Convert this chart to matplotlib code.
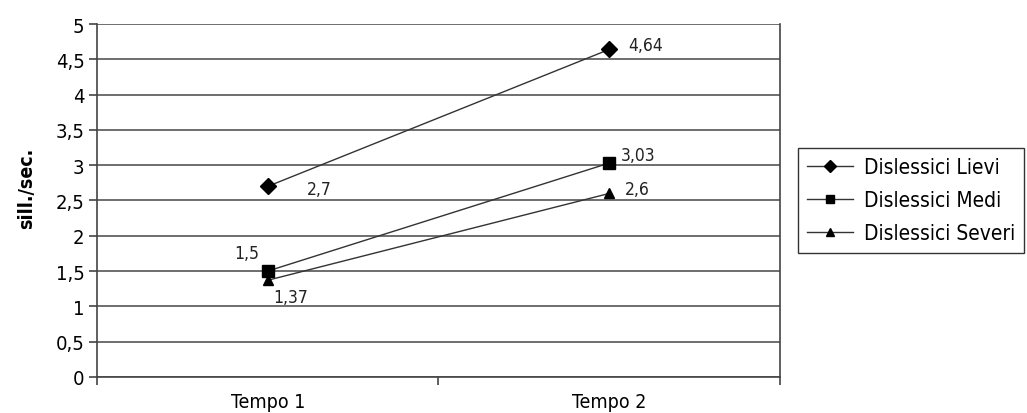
import matplotlib
matplotlib.use("Agg")
import matplotlib.pyplot as plt
from matplotlib.ticker import FuncFormatter

# Data
categories = ["Tempo 1", "Tempo 2"]
series_names = ["Dislessici Lievi", "Dislessici Medi", "Dislessici Severi"]
lievi = [2.7, 4.64]
medi = [1.5, 3.03]
severi = [1.37, 2.6]
y_ticks = [0, 0.5, 1, 1.5, 2, 2.5, 3, 3.5, 4, 4.5, 5]

plt.rcParams['font.family'] = ['DejaVu Sans']
plt.rcParams['font.stretch'] = 'condensed'

fig = plt.figure(figsize=(10.27, 4.14), dpi=100)
ax = fig.add_axes([0.0944, 0.087, 0.6651, 0.8526])

x = [0.5, 1.5]
line_kw = dict(color="#333333", linewidth=1.0)
ax.plot(x, lievi, marker="D", markersize=8, markerfacecolor="black",
        markeredgecolor="black", label=series_names[0], **line_kw)
ax.plot(x, medi, marker="s", markersize=9, markerfacecolor="black",
        markeredgecolor="black", label=series_names[1], **line_kw)
ax.plot(x, severi, marker="^", markersize=7, markerfacecolor="black",
        markeredgecolor="black", label=series_names[2], **line_kw)

def fmt(v):
    s = f"{v:g}"
    return s.replace(".", ",")

lbl_kw = dict(fontsize=12.5, color="#222222", textcoords="offset points")
# value labels
ax.annotate(fmt(lievi[0]), (x[0], lievi[0]), xytext=(28, -2), ha="left", va="center", **lbl_kw)
ax.annotate(fmt(lievi[1]), (x[1], lievi[1]), xytext=(14, 3), ha="left", va="center", **lbl_kw)
ax.annotate(fmt(medi[0]), (x[0], medi[0]), xytext=(-24, 13), ha="left", va="center", **lbl_kw)
ax.annotate(fmt(medi[1]), (x[1], medi[1]), xytext=(8, 6), ha="left", va="center", **lbl_kw)
ax.annotate(fmt(severi[0]), (x[0], severi[0]), xytext=(4, -12), ha="left", va="center", **lbl_kw)
ax.annotate(fmt(severi[1]), (x[1], severi[1]), xytext=(11, 3), ha="left", va="center", **lbl_kw)

ax.set_xlim(0, 2)
ax.set_ylim(0, 5)
ax.set_yticks(y_ticks)
ax.yaxis.set_major_formatter(FuncFormatter(lambda v, p: fmt(v)))
ax.set_xticks([0, 1, 2])
ax.set_xticklabels([])
ax.set_xticks(x, minor=True)
ax.set_xticklabels(categories, minor=True)
ax.tick_params(axis="x", which="minor", length=0, pad=11, labelsize=14)
ax.tick_params(axis="x", which="major", length=6, width=1.2, color="#444444")
ax.tick_params(axis="y", length=6, width=1.2, color="#444444", labelsize=14.5, pad=3)

ax.grid(axis="y", color="#555555", linewidth=1.2)
ax.set_axisbelow(True)
for side in ["left", "bottom", "right", "top"]:
    ax.spines[side].set_color("#444444")
    ax.spines[side].set_linewidth(1.2)
ax.spines["top"].set_visible(False)

ax.set_ylabel("sill./sec.", fontsize=14, fontweight="bold")
ax.yaxis.set_label_coords(-0.089, 0.538)

leg = fig.legend(loc="upper left", bbox_to_anchor=(0.777, 0.640), fontsize=15,
                 frameon=True, fancybox=False, edgecolor="black",
                 handlelength=2.2, borderpad=0.45, labelspacing=0.62,
                 handletextpad=0.5, borderaxespad=0)
leg.get_frame().set_linewidth(1.0)
for h in leg.legend_handles:
    h.set_markersize(6)

fig.savefig("out.png", dpi=100)
